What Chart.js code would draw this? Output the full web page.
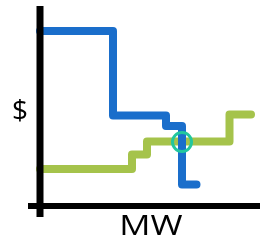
<!DOCTYPE html>
<html>
<head>
<meta charset="utf-8">
<script src="https://cdn.jsdelivr.net/npm/chart.js@4/dist/chart.umd.min.js"></script>
<style>
html, body { margin: 0; padding: 0; background: #fff; }
#wrap { width: 262px; height: 243px; }
</style>
</head>
<body>
<div id="wrap"><canvas id="myChart"></canvas></div>
<script>
// demand curve (blue): MW where each price step starts, and its price
var demandMW = [0, 7.3, 12.6, 14.2, 15.65];
var demandPrice = [17.5, 9.05, 8.0, 2.15, 2.15];
// supply curve (green)
var supplyMW = [0, 9.2, 10.7, 18.95, 21.1];
var supplyPrice = [3.7, 5.15, 6.45, 9.15, 9.15];
// clearing point
var clearMW = [14.2];
var clearPrice = [6.4];
// axis extents
var xAxisMW = [-1.2, 22];
var yAxisPrice = [20, -1.1];
var xTitle = 'MW';
var yTitle = '$';

function pts(xs, ys) {
  return xs.map(function (x, i) { return { x: x, y: ys[i] }; });
}

var labelPlugin = {
  id: 'axisLabels',
  afterDatasetsDraw: function (chart) {
    var ctx = chart.ctx;
    var xs = chart.scales.x, ys = chart.scales.y;
    ctx.save();
    ctx.fillStyle = '#000';
    ctx.font = '28px "Open Sans", sans-serif';
    ctx.textAlign = 'center';
    ctx.textBaseline = 'alphabetic';
    ctx.fillText(yTitle, xs.getPixelForValue(-2.0), ys.getPixelForValue(8.6));
    // the MW label is drawn a bit wider, like the original
    ctx.translate(xs.getPixelForValue(11.1), ys.getPixelForValue(-2.85));
    ctx.scale(1.24, 1);
    ctx.fillText(xTitle, 0, 0);
    ctx.restore();
  }
};

var canvas = document.getElementById('myChart');
var ctx = canvas.getContext('2d');
var config = {
  type: 'scatter',
  data: {
    datasets: [
      {
        label: 'Y axis',
        data: pts([0, 0], yAxisPrice),
        showLine: true,
        borderColor: '#000',
        borderWidth: 7,
        pointRadius: 0,
        borderCapStyle: 'butt',
        clip: false,
        order: 0
      },
      {
        label: 'X axis',
        data: pts(xAxisMW, [0, 0]),
        showLine: true,
        borderColor: '#000',
        borderWidth: 6,
        pointRadius: 0,
        borderCapStyle: 'butt',
        clip: false,
        order: 0
      },
      {
        label: 'Supply',
        data: pts(supplyMW, supplyPrice),
        showLine: true,
        stepped: 'before',
        borderColor: '#a5c34b',
        borderWidth: 8,
        pointRadius: 0,
        borderCapStyle: 'round',
        borderJoinStyle: 'round',
        clip: false,
        order: 3
      },
      {
        label: 'Demand',
        data: pts(demandMW, demandPrice),
        showLine: true,
        stepped: 'before',
        borderColor: '#1a6ecb',
        borderWidth: 8,
        pointRadius: 0,
        borderCapStyle: 'round',
        borderJoinStyle: 'round',
        clip: false,
        order: 2
      },
      {
        label: 'Clearing',
        data: pts(clearMW, clearPrice),
        showLine: false,
        pointRadius: 9.5,
        pointBorderWidth: 3,
        pointBorderColor: '#22c79e',
        pointBackgroundColor: 'rgba(0,0,0,0)',
        clip: false,
        order: 1
      }
    ]
  },
  options: {
    responsive: true,
    maintainAspectRatio: false,
    animation: false,
    layout: { padding: 0, autoPadding: false },
    plugins: { legend: { display: false }, tooltip: { enabled: false } },
    scales: {
      x: { type: 'linear', display: false, min: -4, max: 22.2 },
      y: { type: 'linear', display: false, min: -3.7, max: 20.6 }
    }
  },
  plugins: [labelPlugin]
};

var chart = new Chart(ctx, config);
</script>
</body>
</html>
